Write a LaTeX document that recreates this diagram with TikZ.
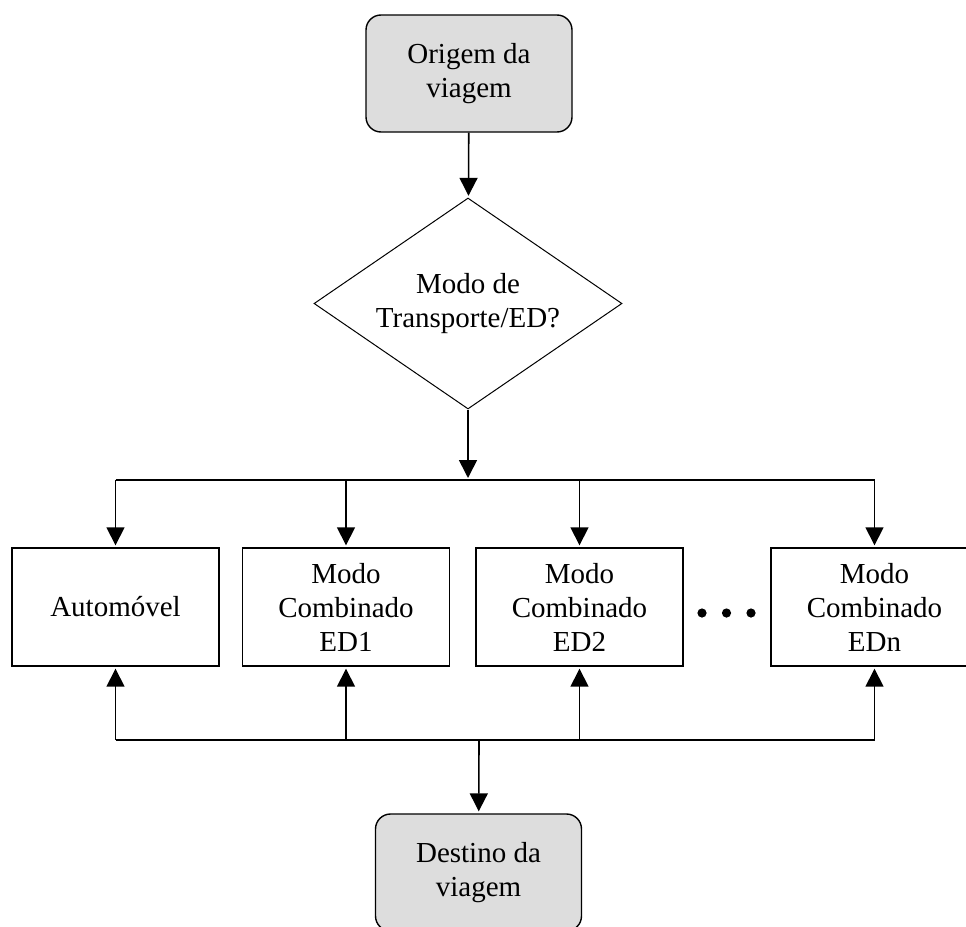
\documentclass[tikz,border=0pt]{standalone}
\usepackage{fontspec}
\setmainfont{Liberation Serif}
\usetikzlibrary{shapes.geometric,arrows.meta}
\definecolor{termgray}{RGB}{221,221,221}
\begin{document}
\begin{tikzpicture}[x=1pt,y=-1pt,
  font=\fontsize{29}{34}\selectfont,
  terminal/.style={draw=black,line width=1.4pt,fill=termgray,rounded corners=15pt,
    minimum width=206pt,minimum height=117pt,align=center,inner sep=0pt},
  decision/.style={draw=black,line width=1pt,diamond,aspect=1.46,minimum width=308pt,
    minimum height=211pt,align=center,inner sep=0pt},
  modebox/.style={draw=black,line width=1.4pt,minimum width=207pt,
    minimum height=118pt,align=center,inner sep=0pt},
  link/.style={line width=1.6pt},
  arr/.style={link,-{Triangle[length=18pt,width=18pt]},shorten >=2pt}]
\useasboundingbox (0,0) rectangle (966,926);
\clip (0,0) rectangle (966,926);

% start, decision and end
\node[terminal] (orig) at (469,73.5) {Origem da\\viagem};
\node[decision] (dec) at (468,303.5) {Modo de\\Transporte/ED?};
\node[terminal] (dest) at (478.5,872.5) {Destino da\\viagem};

% transport alternatives
\node[modebox] (auto) at (115.5,607) {Automóvel};
\node[modebox] (ed1) at (346,607) {Modo\\Combinado\\ED1};
\node[modebox] (ed2) at (579.5,607) {Modo\\Combinado\\ED2};
\node[modebox] (edn) at (874.5,607) {Modo\\Combinado\\EDn};

% ellipsis between the last two alternatives
\foreach \dx in {702,726.5,751}
  \fill (\dx,613) circle (4.6pt);

% branching bus and collecting bus
\coordinate (topbus) at (468,480);
\coordinate (botbus) at (479,740);

\draw[arr] (orig) -- (dec);
\draw[arr] (dec.south) -- (topbus);
\draw[link] (auto.north |- topbus) -- (edn.north |- topbus);
\foreach \n in {auto,ed1,ed2,edn}
  \draw[arr] (\n.north |- topbus) -- (\n.north);

\draw[link] (auto.south |- botbus) -- (edn.south |- botbus);
\foreach \n in {auto,ed1,ed2,edn}
  \draw[arr] (\n.south |- botbus) -- (\n.south);
\draw[arr] (botbus) -- (dest);
\end{tikzpicture}
\end{document}
